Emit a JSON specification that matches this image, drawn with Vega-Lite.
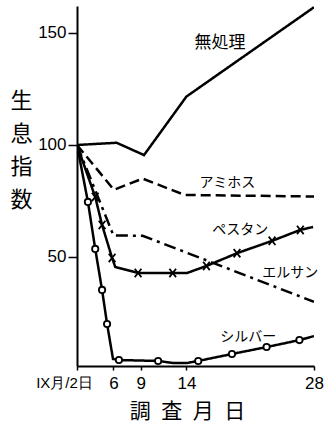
{
  "$schema": "https://vega.github.io/schema/vega-lite/v6.json",
  "width": 237,
  "height": 360,
  "autosize": {"type": "none"},
  "padding": {"left": 77, "top": 6, "right": 14, "bottom": 64},
  "background": "white",
  "config": {"view": {"stroke": null}},
  "resolve": {"scale": {"size": "independent", "shape": "independent"}},
  "datasets": {
    "series": [
      {"series": "無処理", "day": 2, "value": 100, "measured": false},
      {"series": "無処理", "day": 6.35, "value": 101, "measured": false},
      {"series": "無処理", "day": 9.35, "value": 95.5, "measured": false},
      {"series": "無処理", "day": 14, "value": 121.6, "measured": false},
      {"series": "無処理", "day": 28, "value": 161.5, "measured": false},
      {"series": "アミホス", "day": 2, "value": 100, "measured": false},
      {"series": "アミホス", "day": 6.05, "value": 80, "measured": false},
      {"series": "アミホス", "day": 9.2, "value": 85, "measured": false},
      {"series": "アミホス", "day": 13.8, "value": 77.7, "measured": false},
      {"series": "アミホス", "day": 28, "value": 77, "measured": false},
      {"series": "エルサン", "day": 2, "value": 100, "measured": false},
      {"series": "エルサン", "day": 6.0, "value": 59.6, "measured": false},
      {"series": "エルサン", "day": 9.2, "value": 59.5, "measured": false},
      {"series": "エルサン", "day": 28, "value": 30, "measured": false},
      {"series": "ペスタン", "day": 2, "value": 100, "measured": false},
      {"series": "ペスタン", "day": 4.0, "value": 76.8, "measured": true},
      {"series": "ペスタン", "day": 4.75, "value": 64.3, "measured": true},
      {"series": "ペスタン", "day": 5.85, "value": 49.6, "measured": true},
      {"series": "ペスタン", "day": 6.2, "value": 45.5, "measured": false},
      {"series": "ペスタン", "day": 8.7, "value": 42.9, "measured": true},
      {"series": "ペスタン", "day": 12.5, "value": 42.9, "measured": true},
      {"series": "ペスタン", "day": 14.1, "value": 42.9, "measured": false},
      {"series": "ペスタン", "day": 16.2, "value": 46.0, "measured": true},
      {"series": "ペスタン", "day": 19.55, "value": 51.7, "measured": true},
      {"series": "ペスタン", "day": 23.4, "value": 57.2, "measured": true},
      {"series": "ペスタン", "day": 26.5, "value": 62.1, "measured": true},
      {"series": "ペスタン", "day": 27.9, "value": 63.4, "measured": false},
      {"series": "シルバー", "day": 2, "value": 100, "measured": false},
      {"series": "シルバー", "day": 3.2, "value": 74.6, "measured": true},
      {"series": "シルバー", "day": 4.0, "value": 53.6, "measured": true},
      {"series": "シルバー", "day": 4.75, "value": 35.3, "measured": true},
      {"series": "シルバー", "day": 5.3, "value": 20.1, "measured": true},
      {"series": "シルバー", "day": 5.95, "value": 4.5, "measured": false},
      {"series": "シルバー", "day": 6.6, "value": 4.0, "measured": true},
      {"series": "シルバー", "day": 10.9, "value": 3.6, "measured": true},
      {"series": "シルバー", "day": 12.5, "value": 2.7, "measured": false},
      {"series": "シルバー", "day": 14.1, "value": 2.7, "measured": false},
      {"series": "シルバー", "day": 15.3, "value": 3.6, "measured": true},
      {"series": "シルバー", "day": 19.0, "value": 6.7, "measured": true},
      {"series": "シルバー", "day": 22.8, "value": 9.8, "measured": true},
      {"series": "シルバー", "day": 26.4, "value": 12.9, "measured": true},
      {"series": "シルバー", "day": 28, "value": 14.7, "measured": false}
    ],
    "labels": [
      {"text": "無処理", "day": 17.7, "value": 145.5, "size": "big"},
      {"text": "アミホス", "day": 18.5, "value": 83, "size": "small"},
      {"text": "ペスタン", "day": 19.9, "value": 62, "size": "small"},
      {"text": "エルサン", "day": 25.4, "value": 42.8, "size": "small"},
      {"text": "シルバー", "day": 20.8, "value": 14.3, "size": "small"}
    ]
  },
  "layer": [
    {
      "data": {"name": "series"},
      "mark": {"type": "line", "color": "black", "strokeWidth": 2.5, "clip": true},
      "encoding": {
        "x": {
          "field": "day", "type": "quantitative",
          "scale": {"domain": [2, 28], "nice": false, "zero": false},
          "axis": {
            "values": [2, 6, 9, 14, 28],
            "labelExpr": "datum.value == 2 ? 'IX月/2日' : datum.label",
            "labelFont": "Liberation Sans",
            "labelFontSize": {"condition": {"test": "datum.value == 2", "value": 15}, "value": 17},
            "labelOffset": {"condition": {"test": "datum.value == 2", "value": -13}, "value": 0},
            "labelFlush": false,
            "labelOverlap": false,
            "labelColor": "black",
            "labelPadding": 5,
            "tickSize": 4,
            "tickColor": "black",
            "tickWidth": 1.5,
            "domainColor": "black",
            "domainWidth": 2,
            "grid": false,
            "title": "調\u2002査\u2002月\u2002日",
            "titleFont": "Noto Sans CJK JP",
            "titleFontSize": 21,
            "titleFontWeight": "normal",
            "titleColor": "black",
            "titleX": 110,
            "titleY": 45,
            "titleBaseline": "middle",
            "titleAlign": "center"
          }
        },
        "y": {
          "field": "value", "type": "quantitative",
          "scale": {"domain": [1.34, 162.05], "nice": false, "zero": false},
          "axis": {
            "values": [50, 100, 150],
            "labelFont": "Liberation Sans",
            "labelFontSize": 17,
            "labelColor": "black",
            "labelPadding": 2,
            "labelFlush": false,
            "labelOverlap": false,
            "tickSize": 9,
            "tickColor": "black",
            "tickWidth": 1.5,
            "domainColor": "black",
            "domainWidth": 2,
            "grid": false,
            "title": ["生", "息", "指", "数"],
            "titleAngle": 0,
            "titleFont": "Noto Sans CJK JP",
            "titleFontSize": 22,
            "titleFontWeight": "normal",
            "titleColor": "black",
            "titleLineHeight": 33,
            "titleX": -56,
            "titleY": 84,
            "titleBaseline": "top",
            "titleAlign": "center"
          }
        },
        "detail": {"field": "series"},
        "strokeDash": {
          "field": "series", "type": "nominal",
          "scale": {
            "domain": ["無処理", "アミホス", "ペスタン", "エルサン", "シルバー"],
            "range": [[1, 0], [10, 5], [1, 0], [12, 5, 3, 5], [1, 0]]
          },
          "legend": null
        }
      }
    },
    {
      "data": {"name": "series"},
      "transform": [{"filter": "datum.measured"}],
      "mark": {"type": "point", "filled": true, "fill": "white", "stroke": "black", "strokeWidth": 1.8, "opacity": 1, "fillOpacity": 1, "strokeOpacity": 1},
      "encoding": {
        "x": {"field": "day", "type": "quantitative"},
        "y": {"field": "value", "type": "quantitative"},
        "shape": {
          "field": "series", "type": "nominal",
          "scale": {"domain": ["ペスタン", "シルバー"], "range": ["M-0.8,-1L0.8,1M-0.8,1L0.8,-1", "circle"]},
          "legend": null
        },
        "size": {
          "field": "series", "type": "nominal",
          "scale": {"domain": ["ペスタン", "シルバー"], "range": [70, 40]},
          "legend": null
        }
      }
    },
    {
      "data": {"name": "labels"},
      "mark": {"type": "text", "font": "Noto Sans CJK JP", "color": "black", "align": "center", "baseline": "middle"},
      "encoding": {
        "x": {"field": "day", "type": "quantitative"},
        "y": {"field": "value", "type": "quantitative"},
        "text": {"field": "text"},
        "size": {
          "field": "size", "type": "nominal",
          "scale": {"domain": ["big", "small"], "range": [17, 14]},
          "legend": null
        }
      }
    }
  ]
}
